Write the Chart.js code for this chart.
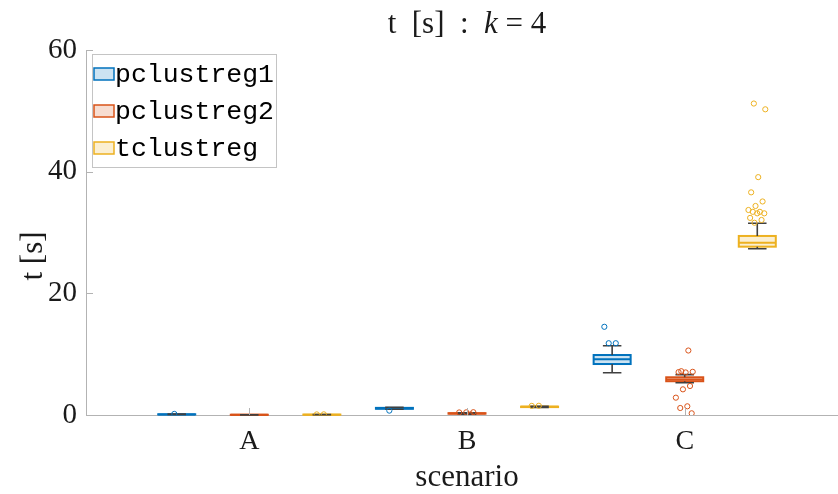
<!DOCTYPE html>
<html>
<head>
<meta charset="utf-8">
<script src="https://cdn.jsdelivr.net/npm/chart.js@4.4.0/dist/chart.umd.min.js"></script>
<style>
  html, body { margin: 0; padding: 0; background: #fff; overflow: hidden; width: 838px; height: 494px; }
  canvas { display: block; }
</style>
</head>
<body>
<canvas id="chart" width="853" height="494"></canvas>
<script>
// Scenarios on the x axis and the three methods compared
const categories = ['A', 'B', 'C'];
const seriesNames = ['pclustreg1', 'pclustreg2', 'tclustreg'];
const yTicks = [0, 20, 40, 60];

// pclustreg1: whisker ends, quartiles and median per scenario (seconds)
const p1Low    = [0.07, 0.95, 6.95];
const p1Q1     = [0.09, 1.02, 8.38];
const p1Median = [0.10, 1.10, 9.16];
const p1Q3     = [0.12, 1.17, 9.86];
const p1High   = [0.14, 1.28, 11.39];
const p1Outliers = [[0.18], [0.72], [14.5, 11.8, 11.8]];

// pclustreg2
const p2Low    = [0.01, 0.15, 5.31];
const p2Q1     = [0.02, 0.22, 5.55];
const p2Median = [0.03, 0.26, 5.85];
const p2Q3     = [0.04, 0.30, 6.20];
const p2High   = [0.05, 0.38, 6.63];
const p2Outliers = [[], [0.46, 0.44, 0.42, 0.10],
  [10.6, 7.2, 7.1, 7.0, 7.05, 4.77, 4.22, 2.85, 1.43, 1.15, 0.28]];

// tclustreg
const tLow    = [0.04, 1.26, 27.34];
const tQ1     = [0.05, 1.30, 27.67];
const tMedian = [0.06, 1.34, 28.33];
const tQ3     = [0.07, 1.38, 29.43];
const tHigh   = [0.08, 1.44, 31.51];
const tOutliers = [[0.11, 0.10], [1.52, 1.50],
  [51.2, 50.25, 39.1, 36.6, 35.1, 34.36, 33.7, 33.4, 33.4, 33.15, 33.15, 32.4, 32.06, 31.6]];

const series = [
  { name: seriesNames[0], low: p1Low, q1: p1Q1, med: p1Median, q3: p1Q3, high: p1High, out: p1Outliers },
  { name: seriesNames[1], low: p2Low, q1: p2Q1, med: p2Median, q3: p2Q3, high: p2High, out: p2Outliers },
  { name: seriesNames[2], low: tLow,  q1: tQ1,  med: tMedian,  q3: tQ3,  high: tHigh,  out: tOutliers }
];

// Styling
const lineColors = ['#0072BD', '#D95319', '#EDB120'];
const fillColors = ['rgba(0,114,189,0.2)', 'rgba(217,83,25,0.2)', 'rgba(237,177,32,0.2)'];
const whiskerColor = '#404040';
const axisColor = '#b3b3b3';
const textColor = '#1a1a1a';
const serif = "'Liberation Serif', 'DejaVu Serif', serif";
const mono = "'Liberation Mono', 'DejaVu Sans Mono', monospace";
const groupOffsets = [-1 / 3, 0, 1 / 3];
const boxWidth = 0.17;

// Spread outlier markers sideways inside the box width (deterministic)
function jitter(i) {
  const f = ((i * 0.6180339887 + 0.37) % 1) - 0.5;
  return f * boxWidth * 0.5;
}

const datasets = series.map((s, si) => ({
  label: s.name,
  type: 'scatter',
  data: s.out.flatMap((vals, ci) =>
    vals.map((v, i) => ({ x: ci + 1 + groupOffsets[si] + jitter(i + ci * 3 + si), y: v }))),
  borderColor: lineColors[si],
  backgroundColor: 'rgba(0,0,0,0)',
  pointRadius: 2.6,
  pointBorderWidth: 1,
  pointStyle: 'circle'
}));

// Boxes, medians and whiskers drawn under the outlier markers
const boxPlugin = {
  id: 'boxes',
  beforeDatasetsDraw(chart) {
    const { ctx, scales: { x, y } } = chart;
    const half = (x.getPixelForValue(boxWidth) - x.getPixelForValue(0)) / 2;
    ctx.save();
    series.forEach((s, si) => {
      categories.forEach((c, ci) => {
        const cx = x.getPixelForValue(ci + 1 + groupOffsets[si]);
        const pLow = y.getPixelForValue(s.low[ci]);
        const pQ1 = y.getPixelForValue(s.q1[ci]);
        const pMed = y.getPixelForValue(s.med[ci]);
        const pQ3 = y.getPixelForValue(s.q3[ci]);
        const pHigh = y.getPixelForValue(s.high[ci]);
        // box
        ctx.fillStyle = '#fff';
        ctx.fillRect(cx - half, pQ3, 2 * half, pQ1 - pQ3);
        ctx.fillStyle = fillColors[si];
        ctx.fillRect(cx - half, pQ3, 2 * half, pQ1 - pQ3);
        ctx.strokeStyle = lineColors[si];
        ctx.lineWidth = 2;
        ctx.strokeRect(cx - half, pQ3, 2 * half, pQ1 - pQ3);
        // median
        ctx.beginPath();
        ctx.moveTo(cx - half, pMed);
        ctx.lineTo(cx + half, pMed);
        ctx.stroke();
        // whiskers and caps
        ctx.strokeStyle = whiskerColor;
        ctx.lineWidth = 1.6;
        ctx.beginPath();
        ctx.moveTo(cx, pQ3); ctx.lineTo(cx, pHigh);
        ctx.moveTo(cx, pQ1); ctx.lineTo(cx, pLow);
        ctx.moveTo(cx - half / 2, pHigh); ctx.lineTo(cx + half / 2, pHigh);
        ctx.moveTo(cx - half / 2, pLow); ctx.lineTo(cx + half / 2, pLow);
        ctx.stroke();
      });
    });
    ctx.restore();
  }
};

// Inward tick marks, titles and boxed legend
const decorPlugin = {
  id: 'decor',
  afterDraw(chart) {
    const { ctx, chartArea, scales: { x, y } } = chart;
    ctx.save();
    ctx.strokeStyle = axisColor;
    ctx.lineWidth = 1;
    ctx.beginPath();
    yTicks.forEach(v => {
      const py = Math.round(y.getPixelForValue(v)) + 0.5;
      ctx.moveTo(chartArea.left, py); ctx.lineTo(chartArea.left + 7, py);
    });
    categories.forEach((c, i) => {
      const px = Math.round(x.getPixelForValue(i + 1)) + 0.5;
      ctx.moveTo(px, chartArea.bottom); ctx.lineTo(px, chartArea.bottom - 7);
    });
    ctx.stroke();

    // title: t [s] : k = 4  (k set in italic)
    const parts = [
      { t: 't  [s]  :  ', f: `31px ${serif}` },
      { t: 'k', f: `italic 31px ${serif}` },
      { t: ' = 4', f: `31px ${serif}` }
    ];
    let total = 0;
    parts.forEach(p => { ctx.font = p.f; p.w = ctx.measureText(p.t).width; total += p.w; });
    let tx = (chartArea.left + chartArea.right) / 2 - total / 2;
    ctx.fillStyle = textColor;
    ctx.textBaseline = 'alphabetic';
    ctx.textAlign = 'left';
    parts.forEach(p => { ctx.font = p.f; ctx.fillText(p.t, tx, 33); tx += p.w; });

    // y-axis title
    ctx.save();
    ctx.translate(42, 256);
    ctx.rotate(-Math.PI / 2);
    ctx.font = `31px ${serif}`;
    ctx.textAlign = 'center';
    ctx.textBaseline = 'alphabetic';
    ctx.fillText('t [s]', 0, 0);
    ctx.restore();

    // legend
    const lx = 92, ly = 54, lw = 184, lh = 113;
    ctx.fillStyle = '#fff';
    ctx.fillRect(lx, ly, lw, lh);
    ctx.strokeStyle = '#c4c4c4';
    ctx.lineWidth = 1;
    ctx.strokeRect(lx + 0.5, ly + 0.5, lw, lh);
    ctx.font = `26.5px ${mono}`;
    ctx.textBaseline = 'middle';
    ctx.textAlign = 'left';
    series.forEach((s, si) => {
      const cy = 74 + si * 37;
      ctx.fillStyle = '#fff';
      ctx.fillRect(94, cy - 6, 20, 12);
      ctx.fillStyle = fillColors[si];
      ctx.fillRect(94, cy - 6, 20, 12);
      ctx.strokeStyle = lineColors[si];
      ctx.lineWidth = 1.5;
      ctx.strokeRect(94, cy - 6, 20, 12);
      ctx.fillStyle = '#000';
      ctx.fillText(s.name, 115, cy + 1);
    });
    ctx.restore();
  }
};

new Chart(document.getElementById('chart'), {
  type: 'scatter',
  data: { datasets },
  options: {
    responsive: false,
    animation: false,
    devicePixelRatio: 1,
    layout: { padding: { top: 50, right: 0, left: 0, bottom: 0 } },
    plugins: { legend: { display: false }, tooltip: { enabled: false }, title: { display: false } },
    scales: {
      x: {
        type: 'linear',
        min: 0.25,
        max: 3.75,
        afterBuildTicks: s => { s.ticks = categories.map((c, i) => ({ value: i + 1 })); },
        afterFit: s => { s.height = 79; s.paddingLeft = 0; s.paddingRight = 0; },
        ticks: {
          callback: v => categories[Math.round(v) - 1] ?? '',
          font: { family: serif, size: 28 },
          color: textColor,
          padding: 10,
          maxRotation: 0,
          autoSkip: false
        },
        grid: { display: false, drawTicks: false },
        border: { display: true, color: axisColor, width: 1 },
        title: {
          display: true, text: 'scenario', color: textColor,
          font: { family: serif, size: 31 }, padding: { top: 0, bottom: -2 }
        }
      },
      y: {
        type: 'linear',
        min: 0,
        max: 60,
        afterBuildTicks: s => { s.ticks = yTicks.map(v => ({ value: v })); },
        afterFit: s => { s.width = 86; s.paddingTop = 0; s.paddingBottom = 0; },
        ticks: { font: { family: serif, size: 29 }, color: textColor, padding: 9 },
        grid: { display: false, drawTicks: false },
        border: { display: true, color: axisColor, width: 1 },
        title: { display: false }
      }
    }
  },
  plugins: [boxPlugin, decorPlugin]
});
</script>
</body>
</html>
